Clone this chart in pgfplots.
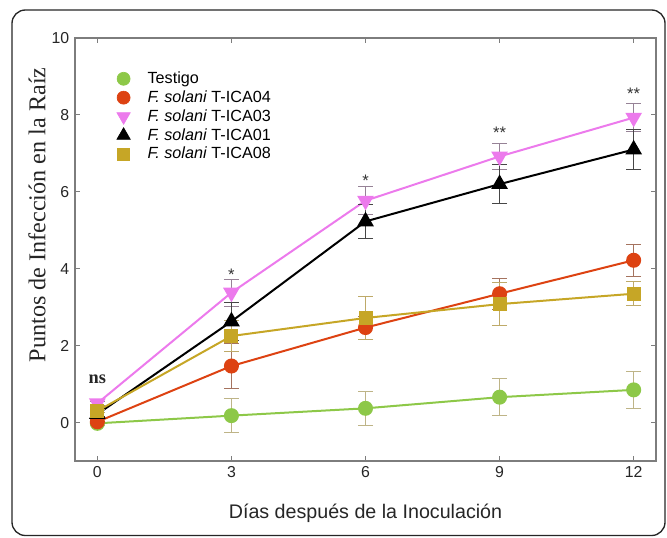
\documentclass[border=0pt]{standalone}
\usepackage{fontspec}
\setmainfont{Liberation Sans}
\newfontfamily\timesfont{Liberation Serif}
\usepackage{pgfplots}
\pgfplotsset{compat=1.18}

\definecolor{cgreen}{RGB}{141,200,72}
\definecolor{cred}{RGB}{221,66,18}
\definecolor{cpink}{RGB}{236,122,236}
\definecolor{cyel}{RGB}{198,166,38}
\definecolor{egreen}{RGB}{190,180,135}
\definecolor{ered}{RGB}{165,115,95}
\definecolor{epink}{RGB}{150,130,150}
\definecolor{eblack}{RGB}{70,70,70}
\definecolor{eyel}{RGB}{190,170,105}
\definecolor{axgray}{RGB}{125,125,125}

\pgfplotstableread{
x y e
0 -0.02 0.05
3 0.18 0.45
6 0.37 0.45
9 0.66 0.48
12 0.85 0.48
}\testigo
\pgfplotstableread{
x y e
0 0.02 0.05
3 1.47 0.58
6 2.47 0.30
9 3.35 0.40
12 4.22 0.42
}\icaA
\pgfplotstableread{
x y e
0 0.50 0.05
3 3.38 0.35
6 5.77 0.37
9 6.92 0.33
12 7.93 0.37
}\icaB
\pgfplotstableread{
x y e
0 0.22 0.05
3 2.63 0.50
6 5.23 0.45
9 6.20 0.50
12 7.10 0.52
}\icaC
\pgfplotstableread{
x y e
0 0.30 0.05
3 2.25 0.40
6 2.72 0.57
9 3.08 0.55
12 3.35 0.31
}\icaD

\begin{document}
\begin{tikzpicture}
\useasboundingbox (0pt,0pt) rectangle (400.2pt,322.2pt);
\draw[line width=0.8pt, rounded corners=8pt, color=black!85] (7.2pt,0.9pt) rectangle (399pt,316.2pt);
\begin{axis}[
  at={(45pt,45.6pt)}, anchor=south west,
  scale only axis, width=348.6pt, height=253.8pt,
  xmin=-0.5, xmax=12.5, ymin=-1, ymax=10,
  xtick={0,3,6,9,12}, ytick={0,2,4,6,8,10},
  tick align=inside, major tick length=3pt,
  axis line style={color=axgray, line width=0.8pt},
  every tick/.style={color=axgray, line width=0.6pt},
  tick label style={font=\fontsize{9.5}{11}\selectfont, color=black!85},
  /pgf/number format/assume math mode=true,
  xlabel={Días después de la Inoculación},
  ylabel={\timesfont Puntos de Infección en la Raíz},
  every axis x label/.style={at={(axis description cs:0.5,-0.123)}, anchor=center, font=\fontsize{11.8}{13}\selectfont, color=black!85},
  every axis y label/.style={at={(axis description cs:-0.0654,0.582)}, rotate=90, anchor=center, font=\fontsize{14.5}{16}\selectfont, color=black!85},
  legend style={draw=none, fill=none, at={(axis description cs:0.067,0.933)}, anchor=north west,
    font=\fontsize{9.7}{11}\selectfont, row sep=-1.2pt, inner sep=1pt},
  legend cell align=left,
  legend image code/.code={\path[draw=none] (0pt,0pt) (17pt,0pt); \draw[#1] plot coordinates {(4.6pt,0pt)};},
  clip=false,
]
\addlegendimage{only marks, mark=*, mark size=3.9pt, color=cgreen}
\addlegendentry{Testigo}
\addlegendimage{only marks, mark=*, mark size=3.9pt, color=cred}
\addlegendentry{\textit{F. solani} T-ICA04}
\addlegendimage{only marks, mark=triangle*, mark size=4.6pt, mark options={rotate=180}, color=cpink}
\addlegendentry{\textit{F. solani} T-ICA03}
\addlegendimage{only marks, mark=triangle*, mark size=4.6pt, color=black}
\addlegendentry{\textit{F. solani} T-ICA01}
\addlegendimage{only marks, mark=square*, mark size=3.6pt, color=cyel}
\addlegendentry{\textit{F. solani} T-ICA08}

\addplot[color=cgreen, line width=1.2pt, mark=*, mark size=3.9pt, forget plot,
  error bars/.cd, y dir=both, y explicit,
  error bar style={color=egreen, line width=0.6pt},
  error mark options={rotate=90, mark size=4.5pt, color=egreen, line width=0.6pt}]
  table[x=x, y=y, y error=e] {\testigo};
\addplot[color=cred, line width=1.2pt, mark=*, mark size=3.9pt, forget plot,
  error bars/.cd, y dir=both, y explicit,
  error bar style={color=ered, line width=0.6pt},
  error mark options={rotate=90, mark size=4.5pt, color=ered, line width=0.6pt}]
  table[x=x, y=y, y error=e] {\icaA};
\addplot[color=cpink, line width=1.2pt, mark=triangle*, mark size=4.6pt, mark options={rotate=180}, forget plot,
  error bars/.cd, y dir=both, y explicit,
  error bar style={color=epink, line width=0.6pt},
  error mark options={rotate=90, mark size=4.5pt, color=epink, line width=0.6pt}]
  table[x=x, y=y, y error=e] {\icaB};
\addplot[color=black, line width=1.2pt, mark=triangle*, mark size=4.6pt, forget plot,
  error bars/.cd, y dir=both, y explicit,
  error bar style={color=eblack, line width=0.6pt},
  error mark options={rotate=90, mark size=4.5pt, color=eblack, line width=0.6pt}]
  table[x=x, y=y, y error=e] {\icaC};
\addplot[color=cyel, line width=1.2pt, mark=square*, mark size=3.6pt, forget plot,
  error bars/.cd, y dir=both, y explicit,
  error bar style={color=eyel, line width=0.6pt},
  error mark options={rotate=90, mark size=4.5pt, color=eyel, line width=0.6pt}]
  table[x=x, y=y, y error=e] {\icaD};

\node[font=\timesfont\bfseries\fontsize{11}{12}\selectfont, color=black!85] at (axis cs:0,1.13) {ns};
\node[font=\fontsize{10}{11}\selectfont, color=black!80] at (axis cs:3,3.85) {*};
\node[font=\fontsize{10}{11}\selectfont, color=black!80] at (axis cs:6,6.28) {*};
\node[font=\fontsize{10}{11}\selectfont, color=black!80] at (axis cs:9,7.53) {**};
\node[font=\fontsize{10}{11}\selectfont, color=black!80] at (axis cs:12,8.55) {**};
\end{axis}
\end{tikzpicture}
\end{document}
